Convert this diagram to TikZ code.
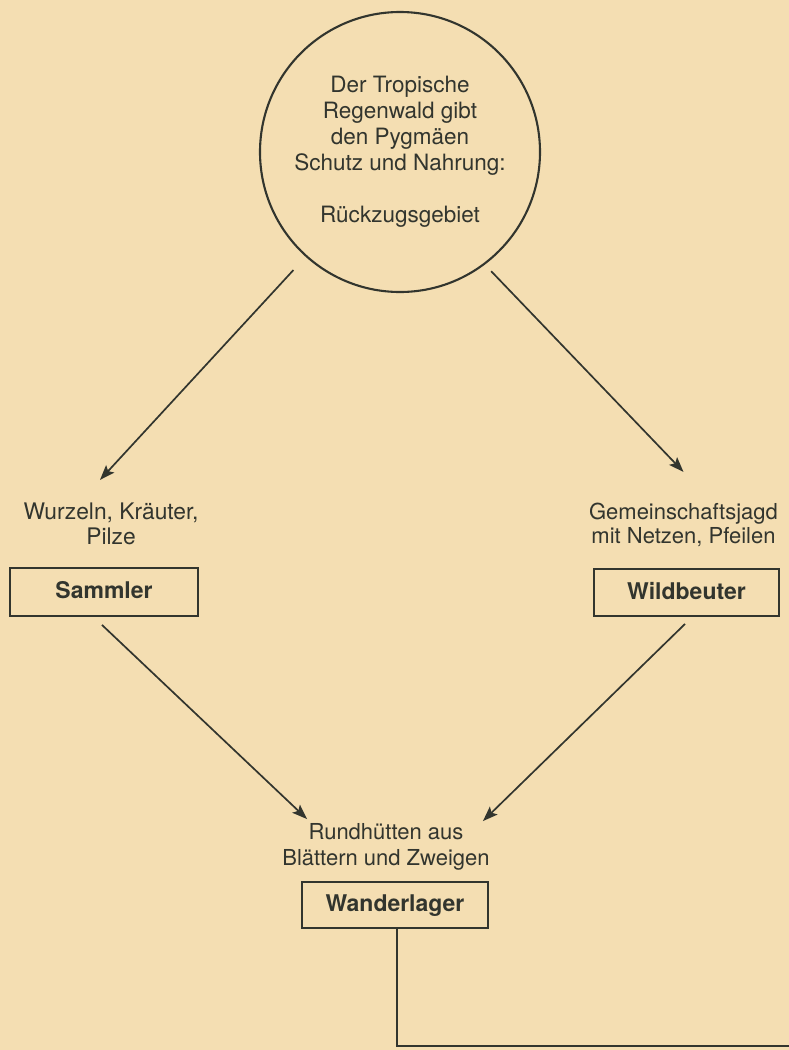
\documentclass[tikz,border=0pt]{standalone}
\usepackage{fontspec}
\setmainfont{TeX Gyre Heros}
\usetikzlibrary{arrows.meta,calc,shapes.geometric}
\definecolor{paper}{RGB}{244,222,178}
\definecolor{ink}{RGB}{50,53,46}
\begin{document}
\begin{tikzpicture}[x=1pt,y=-1pt,
  line width=1.9pt, color=ink,
  arr/.style={-{Stealth[length=15pt,width=11pt,inset=3pt]}, line width=1.7pt},
  lbl/.style={align=center, inner sep=0pt, anchor=north, text=ink},
  boxed/.style={draw, rectangle, inner sep=0pt, text=ink,
    font=\bfseries\fontsize{23}{26}\selectfont, text height=16.5pt, text depth=3pt}
]
\fill[paper] (0,0) rectangle (789,1050);
\useasboundingbox (0,0) rectangle (789,1050);

\node[circle, draw, line width=2.1pt, minimum size=280pt, inner sep=0pt, align=center, text=ink,
  font=\fontsize{22.5}{26}\selectfont] (wald) at (400,152)
  {\strut Der Tropische\\Regenwald gibt\\den Pygmäen\\Schutz und Nahrung:\\[26pt]Rückzugsgebiet\strut};

\node[lbl, font=\fontsize{22.8}{23}\selectfont] (wurzel) at (111,501.9)
  {\strut Wurzeln, Kräuter,\\Pilze};
\node[lbl, font=\fontsize{22}{23}\selectfont] (jagd) at (683.5,501.9)
  {\strut Gemeinschaftsjagd\\mit Netzen, Pfeilen};

\node[boxed, minimum width=188pt, minimum height=48pt] (sammler) at (104,592) {Sammler};
\node[boxed, minimum width=185pt, minimum height=47pt] (wild) at (686.5,592.5) {Wildbeuter};

\node[lbl, font=\fontsize{22}{26}\selectfont] (rund) at (386,820.8)
  {\strut Rundhütten aus\\Blättern und Zweigen};
\node[boxed, minimum width=186pt, minimum height=46pt] (wander) at (395,905) {Wanderlager};

\draw[arr, shorten <=18pt] (wald.-132.4) -- ($(wurzel.north)+(-11,-22)$);
\draw[arr, shorten <=9pt] (wald.-53.7) -- ($(jagd.north)+(0,-30)$);
\draw[arr] ($(sammler.south)+(-2,8)$) -- ($(wander.north west)+(6,-62)$);
\draw[arr] ($(wild.south)+(-1.5,7)$) -- ($(wander.north east)+(-6,-60)$);
\coordinate (tail) at (795,1046);
\draw ($(wander.south)+(2,0)$) |- (tail);
\end{tikzpicture}
\end{document}
